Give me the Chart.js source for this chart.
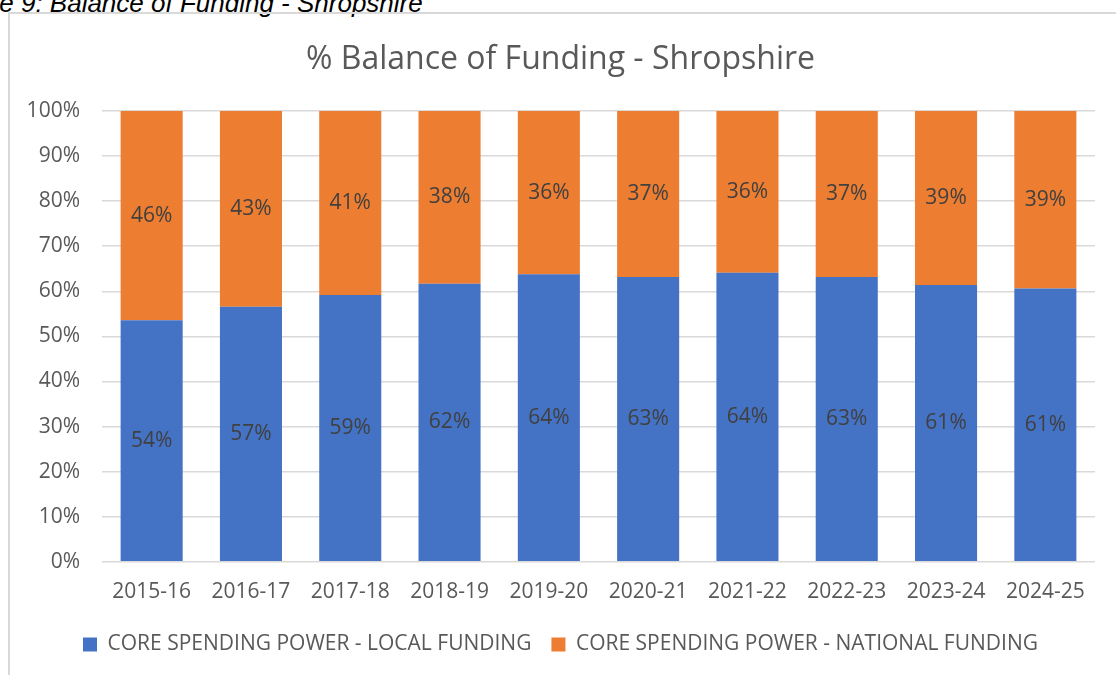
<!DOCTYPE html>
<html>
<head>
<meta charset="utf-8">
<script src="https://cdn.jsdelivr.net/npm/chart.js@4.4.1/dist/chart.umd.min.js"></script>
<style>
  html, body { margin: 0; padding: 0; background: #fff; overflow: hidden; }
  #wrap { position: relative; width: 1116px; height: 675px; overflow: hidden; }
  #caption {
    position: absolute; left: -60px; top: -10px; white-space: nowrap; line-height: 1;
    font-family: "Liberation Sans", Arial, sans-serif; font-style: italic; font-size: 26px; color: #000;
  }
  #frame {
    position: absolute; left: 8px; top: 12px; width: 1300px; height: 900px;
    border: 2px solid #d9d9d9; box-sizing: border-box;
  }
  canvas { position: absolute; left: 0; top: 0; }
</style>
</head>
<body>
<div id="wrap">
  <div id="caption">Figure 9: Balance of Funding - Shropshire</div>
  <div id="frame"></div>
  <canvas id="fundingChart" width="1116" height="675"></canvas>
</div>
<script>
// values
const years = ["2015-16", "2016-17", "2017-18", "2018-19", "2019-20", "2020-21", "2021-22", "2022-23", "2023-24", "2024-25"];
const localFunding = [53.6, 56.6, 59.2, 61.7, 63.8, 63.2, 64.1, 63.2, 61.4, 60.6];
const nationalFunding = [46.4, 43.4, 40.8, 38.3, 36.2, 36.8, 35.9, 36.8, 38.6, 39.4];
const seriesNames = ["CORE SPENDING POWER - LOCAL FUNDING", "CORE SPENDING POWER - NATIONAL FUNDING"];

const txt = "#595959";
Chart.defaults.font.family = "'Open Sans', sans-serif";
Chart.defaults.color = txt;

// draws the % in the middle of each stacked segment
const segmentLabels = {
  id: "segmentLabels",
  afterDatasetsDraw(chart) {
    const ctx = chart.ctx;
    ctx.save();
    ctx.font = "21px 'Open Sans', sans-serif";
    ctx.fillStyle = "#404040";
    ctx.textAlign = "center";
    ctx.textBaseline = "middle";
    chart.data.datasets.forEach((ds, i) => {
      chart.getDatasetMeta(i).data.forEach((bar, j) => {
        const y = (bar.y + bar.base) / 2;
        ctx.fillText(Math.round(ds.data[j]) + "%", bar.x, y);
      });
    });
    ctx.restore();
  }
};

new Chart(document.getElementById("fundingChart"), {
  type: "bar",
  data: {
    labels: years,
    datasets: [
      { label: seriesNames[0], data: localFunding, backgroundColor: "#4472C4" },
      { label: seriesNames[1], data: nationalFunding, backgroundColor: "#ED7D31" }
    ]
  },
  plugins: [segmentLabels],
  options: {
    responsive: false,
    animation: false,
    devicePixelRatio: 1,
    layout: { padding: { left: 26, right: 21, top: 0, bottom: 10 } },
    datasets: { bar: { categoryPercentage: 1, barPercentage: 0.625 } },
    plugins: {
      title: {
        display: true,
        text: "% Balance of Funding - Shropshire",
        color: txt,
        font: { size: 32, weight: "normal" },
        padding: { top: 41, bottom: 31.6 }
      },
      legend: {
        position: "bottom",
        labels: { boxWidth: 14, boxHeight: 14, padding: 20, font: { size: 21 }, color: txt }
      },
      tooltip: { enabled: false }
    },
    scales: {
      x: {
        stacked: true,
        afterFit: s => { s.height -= 1; },
        grid: { display: false },
        border: { display: false },
        ticks: { font: { size: 21 }, color: txt, padding: 10 }
      },
      y: {
        stacked: true,
        min: 0,
        max: 100,
        afterFit: s => { s.width = 76; },
        grid: { color: "#d9d9d9", lineWidth: 1.5, drawTicks: false },
        border: { display: false },
        ticks: { stepSize: 10, font: { size: 21 }, color: txt, padding: 22, callback: v => v + "%" }
      }
    }
  }
});
</script>
</body>
</html>
